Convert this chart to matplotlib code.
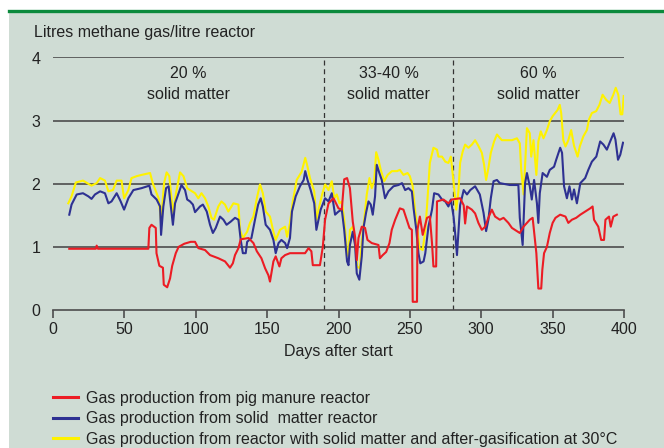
import matplotlib
matplotlib.use('Agg')
import matplotlib.pyplot as plt
from matplotlib.patches import Rectangle
from matplotlib.lines import Line2D

plt.rcParams['font.family'] = ['Liberation Sans', 'DejaVu Sans']

# values (day, litres CH4 per litre reactor)
red_days = [11.4, 30, 30.6, 31.5, 66.8, 67.5, 69, 72, 72.5, 74.5, 77, 77.6, 80, 82, 83.5, 86, 88, 92,
            96.5, 99.5, 101.8, 106.5, 110, 115.8, 120.5, 124, 126, 127.5, 129.9, 131.5, 137, 140.4,
            142.8, 146, 148.6, 150.9, 152, 153, 154.4, 156, 158.6, 160, 162.6, 166, 176.6, 179, 181,
            182, 187, 189, 190.6, 193, 196.5, 200, 202.3, 204, 206, 208, 210, 211.6, 212.8, 214,
            216.3, 218.6, 220.3, 223.3, 228, 229, 231, 233.4, 235.7, 237.3, 239.7, 243, 245.5, 247.4,
            249.7, 251.4, 252, 255, 255.3, 257, 259, 262, 264, 265.5, 266.5, 268.4, 269, 273.5, 277,
            279.4, 285.2, 287.7, 288.7, 290, 293.4, 295.7, 298, 300.4, 302.8, 305, 307.4, 309.7, 313,
            315.6, 319, 321.5, 327, 329.6, 334, 336, 337.4, 338.6, 340, 342, 342.8, 344, 346, 348,
            350, 352, 355.3, 359, 361, 363.5, 366.5, 369.4, 372.8, 376.3, 378, 379, 382, 384, 386,
            387, 389.5, 390.7, 392.5, 395]
red_vals = [0.97, 0.97, 1.02, 0.97, 0.97, 1.3, 1.35, 1.3, 0.9, 0.7, 0.67, 0.4, 0.36, 0.5, 0.7, 0.9, 1.0, 1.05,
            1.08, 1.08, 0.98, 0.95, 0.87, 0.82, 0.77, 0.67, 0.74, 0.87, 0.98, 1.12, 1.14, 1.06,
            0.93, 0.82, 0.66, 0.55, 0.45, 0.58, 0.77, 0.85, 0.69, 0.82, 0.87, 0.9, 0.9, 0.98, 0.93,
            0.71, 0.71, 1.0, 1.43, 1.69, 1.77, 1.61, 1.59, 2.07, 2.09, 1.93, 1.4, 1.16, 0.79, 1.14,
            1.32, 1.3, 1.11, 1.06, 1.03, 0.82, 0.87, 0.92, 1.06, 1.27, 1.43, 1.61, 1.59, 1.46,
            1.3, 1.27, 0.13, 0.13, 1.27, 1.48, 1.19, 1.46, 1.48, 1.06, 0.69, 0.69, 1.72, 1.75, 1.69,
            1.75, 1.77, 1.66, 1.37, 1.64, 1.59, 1.53, 1.38, 1.27, 1.32, 1.46, 1.59, 1.48, 1.43,
            1.46, 1.38, 1.3, 1.22, 1.32, 1.43, 1.46, 1.16, 0.9, 0.34, 0.34, 0.64, 0.9, 1.0, 1.22,
            1.38, 1.46, 1.51, 1.48, 1.38, 1.43, 1.46, 1.51, 1.56, 1.61, 1.64, 1.43, 1.32, 1.11, 1.11,
            1.43, 1.48, 1.32, 1.48, 1.51]

blue_days = [11.4, 13, 16.6, 21, 24.8, 27, 29.4, 33, 36.4, 38.8, 41, 44.6, 47.4, 49.8, 52.8, 56.3, 62,
             67.5, 69, 72.6, 75, 75.7, 77.3, 79.2, 81, 82, 84, 85.5, 88, 90, 92.5, 94, 96, 98, 99.5,
             103, 105, 107.7, 110, 112, 114, 117, 119.4, 121.6, 124.5, 127.5, 129.9, 131.5, 133, 135,
             136, 139, 141.5, 143.7, 145.5, 147, 149, 152, 154.4, 156, 158, 160, 162.6, 164, 166,
             167.4, 170, 173, 175.6, 176.7, 178.3, 180.5, 183, 184.5, 186, 187.5, 190.6, 193, 195.3,
             197.6, 200, 202.3, 204, 206, 207, 208, 210, 211.6, 212.8, 214.6, 216.3, 217.5, 219.3,
             221, 222.6, 224, 225.6, 226.8, 228.6, 230.3, 232.6, 235, 238.5, 242, 244.5, 246.7, 249,
             251.4, 252.6, 254.5, 256, 257.3, 259.6, 260.8, 263, 265.5, 267, 270, 272.5, 274.8, 277,
             278.7, 280.6, 281.7, 283, 284, 285.2, 287.7, 290, 292.3, 295.7, 299, 301.6, 303.4, 305,
             306.7, 308.6, 311, 313, 320, 326, 327, 329, 330.7, 332, 334, 335.4, 337, 339, 340, 341,
             343, 346, 348, 351, 352.5, 354.4, 355.3, 356.6, 358, 360, 361.8, 363.5, 365, 367, 369.4,
             372.8, 375, 377.5, 380.6, 383.3, 385.6, 388, 390.3, 392.7, 394, 395.8, 397.4, 399.3]
blue_vals = [1.51, 1.67, 1.83, 1.85, 1.8, 1.76, 1.83, 1.88, 1.85, 1.69, 1.72, 1.85, 1.72, 1.59, 1.77, 1.9, 1.93,
             1.97, 1.83, 1.75, 1.64, 1.19, 1.64, 1.93, 1.96, 1.75, 1.35, 1.69, 1.85, 1.98, 1.9, 1.75, 1.72, 1.67, 1.55,
             1.64, 1.67, 1.56, 1.35, 1.22, 1.3, 1.48, 1.43, 1.35, 1.4, 1.46, 1.43, 1.11, 0.9, 0.9,
             1.08, 1.14, 1.43, 1.67, 1.77, 1.64, 1.35, 1.27, 1.11, 0.9, 1.06, 1.11, 1.06, 0.98, 1.14,
             1.56, 1.8, 1.96, 2.06, 2.2, 2.06, 1.9, 1.69, 1.27, 1.43, 1.59, 1.77, 1.72, 1.85,
             1.51, 1.56, 1.59, 1.27, 0.77, 0.71, 1.03, 1.24, 1.03, 0.58, 0.48, 0.85, 1.3, 1.54,
             1.72, 1.67, 1.51, 1.8, 2.3, 2.17, 2.06, 1.77, 1.88, 1.96, 1.98, 2.01, 1.9, 1.93,
             1.88, 1.61, 1.27, 0.9, 0.74, 0.77, 0.9, 1.32, 1.59, 1.85, 1.83, 1.75, 1.72, 1.64,
             1.75, 1.48, 1.22, 0.87, 1.22, 1.66, 1.9, 1.83, 1.9, 1.96, 1.83, 1.54, 1.25, 1.43,
             1.77, 2.04, 2.06, 2.01, 1.98, 1.98, 1.46, 1.03, 2.01, 2.17, 1.96, 1.75, 2.06, 1.69, 1.38, 1.85,
             2.17, 2.11, 2.22, 2.27, 2.38, 2.51, 2.57, 2.49, 1.96, 1.77, 1.96, 1.75, 1.91, 1.69, 2.01,
             2.09, 2.22, 2.35, 2.43, 2.67, 2.62, 2.54, 2.67, 2.8, 2.7, 2.38, 2.46, 2.65]

yellow_days = [10.7, 13, 16, 21, 24.8, 27, 30.6, 33, 36.4, 38.8, 42, 44.6, 48, 49.8, 52.8, 55, 58.6, 62,
               68, 70, 74, 75.7, 77.8, 79.6, 81.5, 83, 84.3, 86, 89, 91.4, 94, 96, 99.5, 101.8, 104,
               106.5, 108.8, 111, 112.8, 115.8, 118, 120.5, 122.8, 126.4, 129.9, 131, 133, 136, 138,
               140.4, 142.8, 145, 147, 149, 152, 154.4, 156, 159, 162.6, 164, 166, 168, 170.7, 174.2,
               176.7, 178.3, 180, 183, 184.5, 186, 188.5, 190.6, 193, 195.3, 197, 198.8, 200.7, 202.3,
               204, 206, 207, 208, 210, 211.6, 213, 215, 216.3, 218, 219.8, 221.7, 223.3, 225, 226.4,
               228, 229.6, 232, 234.4, 237.4, 241, 243, 245.5, 248.4, 250, 252, 253.6, 255.3, 256.7,
               259, 260.8, 262, 263, 264, 266.5, 269, 270, 272.5, 274.8, 277, 278.7, 280.6, 282.5, 284,
               285.2, 287, 288.7, 291, 293.4, 295.7, 298, 300.4, 302, 303.4, 305, 306.7, 309, 311,
               314.4, 321.5, 325, 327, 328, 329.7, 330.7, 332, 334, 335, 336.6, 338.6, 340, 341.7,
               343.6, 346, 348, 350, 353.5, 355, 356, 357.5, 359, 361, 363, 365, 367.5, 369, 371.5,
               374, 375.5, 377.5, 380.5, 382.8, 385, 387.5, 390, 392.5, 394.2, 396, 397.6, 398.8, 399.8]
yellow_vals = [1.69, 1.8, 2.02, 2.05, 2.0, 1.97, 2.01, 2.09, 2.05, 1.88, 1.9, 2.05, 2.05, 1.77, 1.9, 2.09, 2.12, 2.14,
               2.17, 2.0, 1.77, 1.4, 2.01, 2.18, 2.12, 1.77, 1.53, 1.83, 2.18, 2.12, 1.93, 1.9, 1.85, 1.77, 1.85,
               1.77, 1.64, 1.46, 1.43, 1.64, 1.72, 1.67, 1.56, 1.69, 1.67, 1.27, 1.14, 1.24, 1.38,
               1.48, 1.77, 1.99, 1.85, 1.56, 1.48, 1.24, 1.11, 1.27, 1.32, 1.16, 1.38, 1.72, 2.06, 2.19,
               2.41, 2.27, 2.09, 1.88, 1.43, 1.59, 1.83, 1.99, 1.9, 2.04, 1.77, 1.83, 1.69, 1.72,
               1.43, 0.93, 0.85, 1.27, 1.32, 1.11, 0.69, 0.66, 1.08, 1.43, 1.83, 2.09, 1.93, 2.04, 2.5,
               2.38, 2.22, 2.04, 2.14, 2.2, 2.2, 2.22, 2.14, 2.17, 2.12, 1.96, 1.59, 1.27, 0.98,
               0.95, 1.27, 1.64, 1.98, 2.33, 2.57, 2.54, 2.43, 2.43, 2.35, 2.33, 2.43, 2.03, 1.59, 1.88,
               2.33, 2.51, 2.62, 2.57, 2.62, 2.69, 2.6, 2.49, 2.3, 2.06, 2.25, 2.49, 2.67, 2.78,
               2.69, 2.69, 2.72, 2.64, 2.22, 1.83, 2.3, 2.88, 2.8, 2.43, 2.69, 2.14, 2.67, 2.83,
               2.72, 2.85, 2.99, 3.07, 3.17, 3.25, 3.12, 2.69, 2.59, 2.69, 2.85, 2.6, 2.43, 2.59, 2.75,
               2.85, 3.02, 3.12, 3.15, 3.25, 3.41, 3.33, 3.28, 3.41, 3.52, 3.41, 3.1, 3.1, 3.39]

phase_limits = [190, 280]
phase_centres = [95, 235, 340]
phase_labels = ['20 %\nsolid matter', '33-40 %\nsolid matter', '60 %\nsolid matter']

legend_labels = ['Gas production from pig manure reactor',
                 'Gas production from solid  matter reactor',
                 'Gas production from reactor with solid matter and after-gasification at 30\u00b0C']

bg = '#cfdcd4'
txt = '#222222'
grey = '#4d4d4d'
red = '#ec1c24'
blue = '#2e3192'
yellow = '#fff200'

fig = plt.figure(figsize=(6.64, 4.48), dpi=100, facecolor='white')

# panel background and green top rule
fig.patches.append(Rectangle((9 / 664, 0), 1, 1 - 12 / 448, transform=fig.transFigure,
                             facecolor=bg, edgecolor='none', zorder=-5))
fig.lines.append(Line2D([9 / 664, 1], [1 - 11.5 / 448, 1 - 11.5 / 448], transform=fig.transFigure,
                        color='#0b8a3c', linewidth=2.4, zorder=-4))

ax = fig.add_axes([53 / 664, 1 - 310 / 448, 571 / 664, 252.5 / 448])
ax.set_zorder(2)
ax.set_facecolor('none')

ax.plot(yellow_days, yellow_vals, color=yellow, linewidth=1.5, zorder=3)
ax.plot(blue_days, blue_vals, color=blue, linewidth=1.5, zorder=4)
ax.plot(red_days, red_vals, color=red, linewidth=1.5, zorder=5)

for d in phase_limits:
    ax.axvline(d, color='#333333', linewidth=0.9, linestyle=(0, (4, 3)), zorder=2)
for c, lab in zip(phase_centres, phase_labels):
    ax.text(c, 3.86, lab, ha='center', va='top', fontsize=11.5, color=txt, linespacing=1.45)

ax.set_xlim(0, 400)
ax.set_ylim(0, 4)
ax.set_xticks(range(0, 401, 50))
ax.set_yticks([0, 1, 2, 3, 4])
for v in [1, 2, 3, 4]:
    ax.axhline(v, color=grey, linewidth=1.2, zorder=1)

for s in ['left', 'right', 'top']:
    ax.spines[s].set_visible(False)
ax.spines['bottom'].set_color(grey)
ax.spines['bottom'].set_linewidth(1.2)
ax.tick_params(axis='x', direction='out', length=6, width=1.2, color=grey, labelsize=11.5,
               labelcolor=txt, pad=3)
ax.tick_params(axis='y', length=0, labelsize=11.5, labelcolor=txt, pad=9)

ax.set_xlabel('Days after start', fontsize=11.5, color=txt, labelpad=5)
fig.text(34 / 664, 1 - 32 / 448, 'Litres methane gas/litre reactor', fontsize=11.5, color=txt,
         ha='left', va='center')

handles = [Line2D([], [], color=c, linewidth=2.2) for c in [red, blue, yellow]]
fig.legend(handles, legend_labels, loc='upper left', bbox_to_anchor=(53 / 664, 1 - 391 / 448),
           frameon=False, fontsize=11.5, handlelength=1.55, handletextpad=0.5,
           labelspacing=0.33, borderpad=0, borderaxespad=0, labelcolor=txt)

fig.savefig('out.png', dpi=100, facecolor='white')
